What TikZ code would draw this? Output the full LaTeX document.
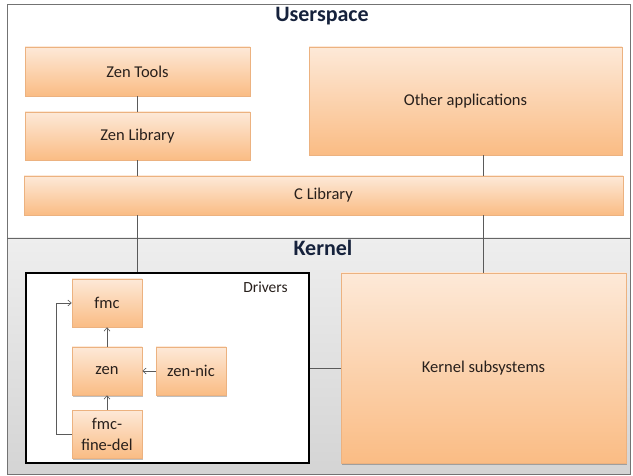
\documentclass[tikz,border=0pt]{standalone}
\usepackage{fontspec}
\setmainfont{Carlito}
\usetikzlibrary{shadows,arrows.meta}
\definecolor{boxtop}{RGB}{253,233,216}
\definecolor{boxbot}{RGB}{250,188,132}
\definecolor{boxedge}{RGB}{236,178,128}
\definecolor{txt}{RGB}{40,32,28}
\definecolor{navy}{RGB}{22,34,60}
\definecolor{kerntop}{RGB}{238,238,238}
\definecolor{kernbot}{RGB}{212,212,212}
\definecolor{conn}{RGB}{90,90,90}
\tikzset{
  box/.style={rectangle, draw=boxedge, line width=0.5pt, top color=boxtop, bottom color=boxbot,
    text=txt, font=\fontsize{16.5}{18}\selectfont, inner sep=2pt, align=center,
    drop shadow={shadow xshift=1pt, shadow yshift=-1.5pt, opacity=0.25, fill=black}},
  title/.style={font=\fontsize{22}{24}\selectfont\bfseries, text=navy},
  conline/.style={draw=conn, line width=0.6pt},
  arr/.style={draw=conn, line width=0.6pt, -{Straight Barb[length=3.5pt,width=6pt]}},
}
\begin{document}
\begin{tikzpicture}[x=1pt,y=-1pt]
\useasboundingbox (0,0) rectangle (633,476);
% regions
\path[fill=white] (7,4) rectangle (630,238);
\shade[top color=kerntop, bottom color=kernbot] (7,238) rectangle (630,474);
\draw[draw=black!55, line width=0.8pt] (7,4) rectangle (630,474);
\draw[draw=black!60, line width=0.8pt] (7,238) -- (630,238);
\node[title] (ut) at (322,16) {Userspace};
\node[title] (kt) at (323,248) {Kernel};
% userspace boxes
\node[box, minimum width=225pt, minimum height=49pt] (ztools) at (137.5,71.5) {Zen Tools};
\node[box, minimum width=225pt, minimum height=48pt] (zlib) at (137.5,136) {Zen Library};
\node[box, minimum width=313pt, minimum height=108pt] (other) at (465.5,101) {Other applications};
\node[box, minimum width=599pt, minimum height=39pt] (clib) at (323.5,195.5) {C Library};
% kernel
\node[rectangle, draw=black, line width=1.8pt, fill=white, minimum width=283pt, minimum height=190pt] (drivers) at (167.5,368) {};
\node[text=txt, font=\fontsize{15.5}{17}\selectfont] (drvlab) at (265.5,287) {Drivers};
\node[box, minimum width=285pt, minimum height=190pt] (ksub) at (483.5,368) {Kernel subsystems};
\node[box, minimum width=70pt, minimum height=48pt] (fmc) at (107,303) {fmc};
\node[box, minimum width=70pt, minimum height=48pt] (zen) at (107,371) {zen};
\node[box, minimum width=70pt, minimum height=48pt] (zennic) at (191,371) {zen-nic};
\node[box, minimum width=70pt, minimum height=48pt, font=\fontsize{16.5}{21}\selectfont] (ffd) at (107,434) {fmc-\\fine-del};
\coordinate (lx) at (56,0);
% connectors
\draw[conline] (ztools.south -| zlib) -- (zlib.north);
\draw[conline] (zlib.south) -- (clib.north -| zlib);
\draw[conline] (clib.south -| zlib) -- (drivers.north -| zlib);
\draw[conline] (other.south -| ksub) -- (clib.north -| ksub);
\draw[conline] (clib.south -| ksub) -- (ksub.north);
\draw[conline] (drivers.east) -- (ksub.west);
\draw[arr] (zen.north) -- (fmc.south);
\draw[arr] (ffd.north) -- (zen.south);
\draw[arr] (zennic.west) -- (zen.east);
\draw[arr] (ffd.west) -- (ffd.west -| lx) -- (fmc.west -| lx) -- (fmc.west);
\end{tikzpicture}
\end{document}
